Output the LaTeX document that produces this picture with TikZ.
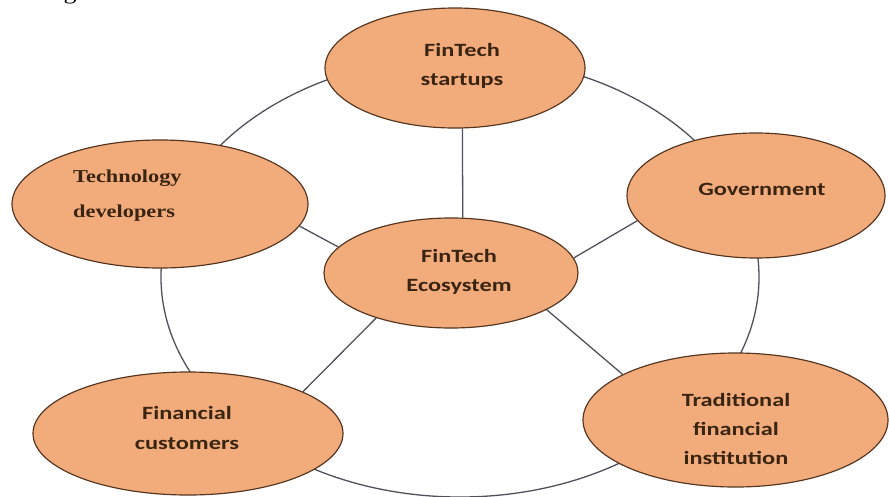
\documentclass[tikz,border=0pt]{standalone}
\usepackage{fontspec}
\newfontfamily\calfont{Carlito}[FakeStretch=1.3]
\newfontfamily\timesfont{Liberation Serif}[FakeStretch=1.23]
\usetikzlibrary{shapes.geometric,backgrounds}
\definecolor{peach}{HTML}{F2AC7C}
\definecolor{rim}{HTML}{553520}
\definecolor{ink}{HTML}{3A2412}
\definecolor{wire}{HTML}{50505A}
\begin{document}
\begin{tikzpicture}[x=0.03cm,y=-0.03cm,
  bubble/.style={ellipse, draw=rim, fill=peach, line width=1pt, inner sep=0pt},
  caption/.style={text=ink, align=center, inner sep=0pt,
    font=\calfont\bfseries\fontsize{16}{25}\selectfont},
  link/.style={draw=wire, line width=1.1pt}]
\useasboundingbox (0,0) rectangle (889,496);

% stakeholder bubbles
\node[bubble, minimum width=7.8cm,  minimum height=3.6cm]  (start) at (455,68) {};
\node[bubble, minimum width=8.88cm, minimum height=3.84cm] (tech)  at (160,204) {};
\node[bubble, minimum width=7.74cm, minimum height=3.75cm] (gov)   at (756,195.5) {};
\node[bubble, minimum width=7.62cm, minimum height=3.3cm]  (eco)   at (451,273) {};
\node[bubble, minimum width=9.3cm,  minimum height=3.69cm] (cust)  at (188,433.5) {};
\node[bubble, minimum width=9.15cm, minimum height=4.02cm] (trad)  at (735.5,420) {};

% labels
\node[caption] (start-t) at (462,66) {FinTech\\startups};
\node[caption] (gov-t) at (762,189) {Government};
\node[caption] (eco-t) at (459,272) {FinTech\\Ecosystem};
\node[caption] (cust-t) at (187,428) {Financial\\customers};
\node[caption, font=\calfont\bfseries\fontsize{16}{24.7}\selectfont] (trad-t) at (736,429) {Traditional\\financial\\institution};
\node[text=ink, align=left, anchor=west, inner sep=0pt,
  font=\timesfont\bfseries\fontsize{15.5}{30}\selectfont] (tech-t) at (73,196) {Technology\\developers};

% descender of the line above, cut by the top edge
\node[font=\timesfont\fontsize{18}{18}\selectfont, anchor=base, inner sep=0pt] (cut) at (70,-0.5) {g};

\begin{scope}[on background layer]
  % outer ring through all stakeholders
  \node[ellipse, draw=wire, line width=1.1pt, inner sep=0pt,
    minimum width=17.94cm, minimum height=13.2cm] (ring) at (460,277) {};
  % spokes from the ecosystem
  \draw[link] (eco.78.7)  -- (start.-83.3);
  \draw[link] (eco.167.2) -- (tech.-9.6);
  \draw[link] (eco.7)     -- (gov.192.6);
  \draw[link] (eco.211.8) -- (cust.20.9);
  \draw[link] (eco.-21.6) -- (trad.158.4);
\end{scope}
\end{tikzpicture}
\end{document}
